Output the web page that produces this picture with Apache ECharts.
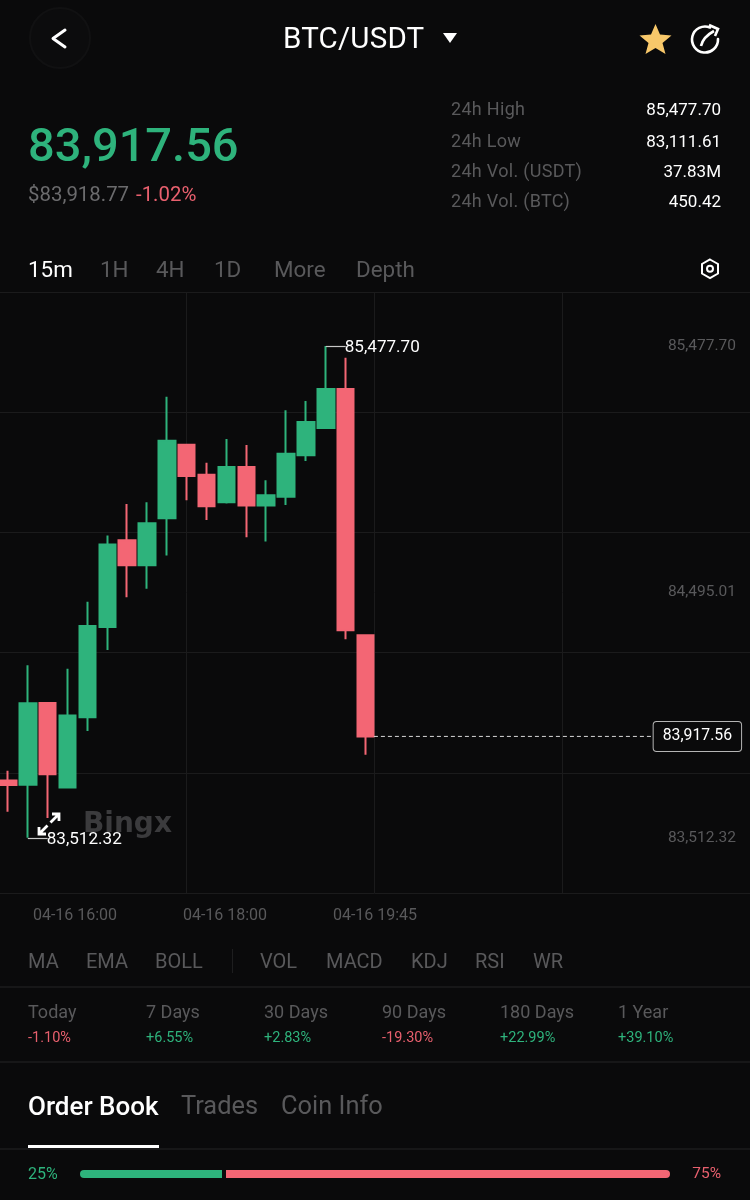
<!DOCTYPE html>
<html>
<head>
<meta charset="utf-8">
<title>BTC/USDT</title>
<script src="https://cdn.jsdelivr.net/npm/echarts@6/dist/echarts.min.js"></script>
<style>
  html, body { margin: 0; padding: 0; background: #0a0a0b; }
  #page { position: relative; width: 750px; height: 1200px; overflow: hidden; background: #0a0a0b;
    font-family: Roboto, sans-serif; color: #6b6b6d; }
  #chart { position: absolute; left: 0; top: 0; width: 750px; height: 1200px; }
  .t { position: absolute; white-space: nowrap; line-height: 1; }
  .r { text-align: right; }
  .line { position: absolute; left: 0; width: 750px; height: 2px; background: #171718; }
  svg { position: absolute; }
</style>
</head>
<body>
<div id="page">
  <div id="chart"></div>
  <div id="ui"></div>
  <svg style="left:26px;top:4px" width="68" height="68"><circle cx="34" cy="34" r="30" fill="#0c0c0d" stroke="#111112" stroke-width="2"/><path d="M39 26 L27 34.5 L39 43" fill="none" stroke="#fff" stroke-width="3" stroke-linecap="round" stroke-linejoin="round"/></svg>
  <svg style="left:442px;top:32px" width="16" height="12"><path d="M1 1 H15 L8 11 Z" fill="#fff"/></svg>
  <svg style="left:638px;top:22px" width="36" height="34"><path d="M17.5 2 L22 12.5 L33.5 13.5 L24.5 21 L27.5 32 L17.5 26 L7.5 32 L10.5 21 L1.5 13.5 L13 12.5 Z" fill="#f8c86a"/></svg>
  <svg style="left:688px;top:22px" width="36" height="34"><path d="M22 5.5 A13 13 0 1 0 30 17" fill="none" stroke="#fff" stroke-width="2.6" stroke-linecap="round"/><path d="M13 24 Q15 15 26 9" fill="none" stroke="#fff" stroke-width="2.6"/><path d="M21 3 L30 7 L27 14" fill="none" stroke="#fff" stroke-width="2.6"/></svg>
  <svg style="left:700px;top:258px" width="20" height="22"><path d="M10 1.5 L18 6 V15.5 L10 20 L2 15.5 V6 Z" fill="none" stroke="#fff" stroke-width="2"/><circle cx="10" cy="10.8" r="3" fill="none" stroke="#fff" stroke-width="2"/></svg>
  <svg style="left:36px;top:811px" width="26" height="26"><path d="M3 23 L11.5 14.5 M14.5 11.5 L23 3 M16 3 H23 V10 M3 16 V23 H10" fill="none" stroke="#fff" stroke-width="2.8"/></svg>
</div>
<script>
// candles, one per 15 minutes
const candleTimes = ['15:45','16:00','16:15','16:30','16:45','17:00','17:15','17:30','17:45','18:00',
  '18:15','18:30','18:45','19:00','19:15','19:30','19:45','20:00','20:15'];
const opens  = [83741,83724,84051,83713,83994,84355,84701,84601,84789,85083,84963,84853,84994,84840,84875,85041,85150,85305,84322];
const closes = [83723,84050,83766,84001,84359,84684,84601,84769,85099,84958,84837,84994,84840,84881,85047,85174,85305,84342,83917.56];
const lows   = [83617,83512.32,83592,83711,83939,84263,84474,84507,84640,84861,84782,84848,84713,84696,84842,85018,85146,84306,83844];
const highs  = [83780,84202,84055,84188,84456,84720,84846,84853,85275,85087,85011,85106,85082,84941,85221,85258,85477.70,85430,84324];

const priceTicks = [83512.32, 84495.01, 85477.70];
const timeTicks = ['04-16 16:00', '04-16 18:00', '04-16 19:45', '', ''];
const lastPrice = 83917.56;
const highPrice = 85477.70;
const lowPrice = 83512.32;

// the page around the chart
const ratesLabels = ['24h High', '24h Low', '24h Vol. (USDT)', '24h Vol. (BTC)'];
const ratesValues = ['85,477.70', '83,111.61', '37.83M', '450.42'];
const ranges = ['15m', '1H', '4H', '1D', 'More', 'Depth'];
const indicators = ['MA', 'EMA', 'BOLL', 'VOL', 'MACD', 'KDJ', 'RSI', 'WR'];
const periods = ['Today', '7 Days', '30 Days', '90 Days', '180 Days', '1 Year'];
const periodChanges = ['-1.10%', '+6.55%', '+2.83%', '-19.30%', '+22.99%', '+39.10%'];
const tabs = ['Order Book', 'Trades', 'Coin Info'];
const bookShare = [25, 75];

const UP = '#2eb37c', DOWN = '#f36674', GRID = '#1b1b1c';
const fmt = v => v.toLocaleString('en-US', {minimumFractionDigits: 2});

let html = '';
function text(str, x, y, size, color, extra) {
  html += '<div class="t" style="left:' + x + 'px;top:' + y + 'px;font-size:' + size + 'px;color:' + color + ';' + (extra || '') + '">' + str + '</div>';
}
function rtext(str, right, y, size, color) {
  html += '<div class="t r" style="right:' + (750 - right) + 'px;top:' + y + 'px;font-size:' + size + 'px;color:' + color + '">' + str + '</div>';
}
text('BTC/USDT', 283, 24, 29.5, '#fff', 'letter-spacing:.2px');
text('83,917.56', 28, 121, 47, UP, 'font-weight:500');
text('$83,918.77', 28, 184, 20.4, '#6b6b6d');
text('-1.02%', 136, 184, 20.4, '#e8606e');
[100, 132, 162, 192].forEach((y, i) => {
  text(ratesLabels[i], 451, y, 18, '#59595b', 'letter-spacing:.3px');
  rtext(ratesValues[i], 721, y + 1, 17, '#fff');
});
[28, 100, 156, 214, 274, 356].forEach((x, i) => {
  text(ranges[i], x, 258, 22.4, i == 0 ? '#fff' : '#59595b');
});
[28, 86, 155, 260, 326, 411, 475, 533].forEach((x, i) => text(indicators[i], x, 951, 20, '#59595b'));
html += '<div style="position:absolute;left:232px;top:949px;width:1px;height:24px;background:#1e1e1f"></div>';
html += '<div class="line" style="top:986px"></div><div class="line" style="top:1061px"></div>';
[28, 146, 264, 382, 500, 618].forEach((x, i) => {
  text(periods[i], x, 1003, 18, '#59595b');
  text(periodChanges[i], x, 1031, 14.5, periodChanges[i][0] == '-' ? '#e8606e' : UP);
});
[28, 181, 281].forEach((x, i) => text(tabs[i], x, 1093, i == 0 ? 26 : 25.4, i == 0 ? '#fff' : '#59595b', i == 0 ? 'font-weight:500' : ''));
html += '<div style="position:absolute;left:28px;top:1145px;width:131px;height:3px;background:#fff"></div>';
html += '<div class="line" style="top:1148px"></div>';
text(bookShare[0] + '%', 28, 1166, 16, UP);
rtext(bookShare[1] + '%', 721, 1166, 15.5, '#e8606e');
html += '<div style="position:absolute;left:80px;top:1170px;width:142px;height:8px;background:#2eb37c;border-radius:4px 0 0 4px"></div>';
html += '<div style="position:absolute;left:226px;top:1170px;width:444px;height:8px;background:#f36674;border-radius:0 4px 4px 0"></div>';
document.getElementById('ui').innerHTML = html;

const chart = echarts.init(document.getElementById('chart'), null, {renderer: 'canvas'});

const extremeLabel = v => ({
  show: true, position: 'end', distance: 0, offset: [-1, 2], formatter: fmt(v),
  color: '#fff', fontSize: 17.1, fontFamily: 'Roboto'
});
const leaderStyle = {color: '#c8c8c8', width: 1.2, type: 'solid'};

chart.setOption({
  backgroundColor: 'transparent',
  animation: false,
  textStyle: {fontFamily: 'Roboto'},
  grid: [
    {left: -2, top: 292, width: 755, height: 601, outerBoundsMode: 'none'},   // candles
    {left: -2, top: 292, width: 752, height: 601, outerBoundsMode: 'none'},   // fixed chart lines
    {left: 0, top: 292, width: 750, height: 601, outerBoundsMode: 'none'}     // time labels
  ],
  xAxis: [
    {gridIndex: 0, type: 'category', data: candleTimes.concat(new Array(19).fill('')),
      axisLine: {show: false}, axisTick: {show: false}, axisLabel: {show: false}, splitLine: {show: false}},
    {gridIndex: 1, type: 'value', min: 0, max: 4, interval: 1,
      axisLine: {show: false}, axisTick: {show: false}, axisLabel: {show: false},
      splitLine: {show: true, lineStyle: {color: GRID, width: 1}}},
    {gridIndex: 2, type: 'category', data: timeTicks,
      axisLine: {show: false}, axisTick: {show: false}, splitLine: {show: false},
      axisLabel: {interval: 0, margin: 15, fontSize: 16, color: '#59595b', fontFamily: 'Roboto'}},
    // same span as the candle axis, but fractions are allowed: the last price line starts and ends between candles
    {gridIndex: 0, type: 'value', min: -0.5, max: 37.5, show: false}
  ],
  yAxis: [
    {gridIndex: 0, type: 'value', position: 'right', min: 83292, max: 85693, scale: true,
      axisLine: {show: false}, axisTick: {show: false}, splitLine: {show: false},
      axisLabel: {inside: true, customValues: priceTicks, formatter: fmt, margin: 17, padding: [2, 0, 0, 0],
        fontSize: 15.5, color: '#59595b', fontFamily: 'Roboto'}},
    {gridIndex: 1, type: 'value', min: 0, max: 5, interval: 1,
      axisLine: {show: false}, axisTick: {show: false}, axisLabel: {show: false},
      splitLine: {show: true, lineStyle: {color: GRID, width: 1}}},
    {gridIndex: 2, type: 'value', min: 0, max: 1, show: false}
  ],
  series: [
    {
      type: 'candlestick', xAxisIndex: 0, yAxisIndex: 0, barWidth: 17,
      clip: false,
      itemStyle: {color: UP, color0: DOWN, borderColor: UP, borderColor0: DOWN, borderWidth: 2},
      data: candleTimes.map((t, i) => [opens[i], closes[i], lows[i], highs[i]]),
      markLine: {
        silent: true, symbol: 'none', animation: false,
        data: [
          [{coord: [16, highPrice], lineStyle: leaderStyle, label: extremeLabel(highPrice)}, {coord: [17, highPrice]}],
          [{coord: [1, lowPrice], lineStyle: leaderStyle, label: extremeLabel(lowPrice)}, {coord: [2, lowPrice]}]
        ]
      }
    },
    {
      type: 'line', xAxisIndex: 3, yAxisIndex: 0, showSymbol: false, silent: true, clip: false,
      lineStyle: {color: '#d8d8d8', width: 1, type: [4, 3]},
      data: [[18.42, lastPrice], [32.5, lastPrice]],
      endLabel: {show: true, distance: 0, formatter: fmt(lastPrice), color: '#fff', fontSize: 15.8, fontFamily: 'Roboto',
        backgroundColor: '#0a0a0b', borderColor: '#b5b5b5', borderWidth: 1, borderRadius: 3, padding: [7, 9, 6, 9]}
    }
  ],
  graphic: [{
    type: 'text', left: 83, top: 811, z: 0, silent: true,
    style: {text: 'Bingx', fill: '#3b3b3d', font: 'bold 28px "DejaVu Sans"'}
  }]
});
</script>
</body>
</html>
